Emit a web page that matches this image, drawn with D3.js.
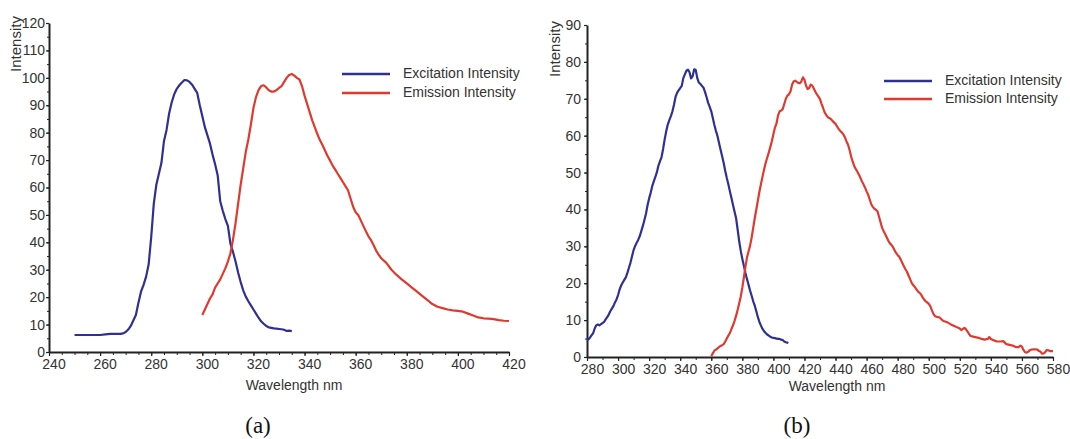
<!DOCTYPE html>
<html>
<head>
<meta charset="utf-8">
<script src="https://cdn.jsdelivr.net/npm/d3@7"></script>
<style>
  html, body { margin: 0; padding: 0; background: #fff; }
  svg { display: block; }
  text { font-family: "Liberation Sans", Arial, sans-serif; }
</style>
</head>
<body>
<svg id="chart" width="1070" height="439"></svg>
<script>
// ---------- DATA ----------
// Panel (a): [wavelength nm, intensity]
const aExcitation = [
  [250,6.2],[255,6.2],[260,6.2],[262,6.4],[264,6.6],[266,6.6],[268,6.6],[269,6.8],[270,7.3],[271,8.2],
  [272,9.5],[273,11.5],[274,13.5],[275,18],[276,22],[277,24.5],[278,27.5],[279,32],[280,42],[281,54],
  [282,61],[283,65],[284,69],[285,77],[286,81],[287,87],[288,91],[289,94],[290,96],[291,97.3],
  [292,98.3],[293,99.2],[294,99.1],[295,98.5],[296,97.5],[297,96],[298,94.5],[299,90],[300,86],
  [301,82],[302,79],[303,76],[304,72],[305,68.5],[306,64.5],[307,55],[308,51.5],[309,48.5],[310,46],
  [311,39.5],[312,36.5],[313,33],[314,29],[315,25.5],[316,22.5],[317,20.2],[318,18.5],[319,17],
  [320,15.5],[321,14],[322,12.5],[323,11.2],[324,10.3],[325,9.5],[326,9],[327,8.8],[328,8.6],
  [329,8.5],[330,8.4],[331,8.3],[332,8.1],[333,7.7],[334,7.8],[335,7.6]
];
const aEmission = [
  [300,13.5],[301,15.5],[302,17.5],[303,19.5],[304,21],[305,23.5],[306,25],[307,26.5],[308,28.5],
  [309,30.5],[310,33],[311,36],[312,41],[313,47],[314,54],[315,61],[316,67],[317,73],[318,77.5],
  [319,83],[320,89],[321,93],[322,95.5],[323,97],[324,97.3],[325,96.5],[326,95.5],[327,95],[328,95],
  [329,95.5],[330,96.3],[331,97],[332,98.5],[333,100],[334,101],[335,101.4],[336,100.8],[337,100],
  [338,99.4],[339,97],[340,93.5],[341,90.5],[342,87.5],[343,84.5],[344,82],[345,79.5],[346,77.3],
  [347,75.5],[348,73.5],[349,71.5],[350,69.8],[351,68],[352,66.5],[353,65],[354,63.5],[355,62],
  [356,60.5],[357,59],[358,56],[359,53],[360,51],[361,50],[362,48],[363,46],[364,44],[365,42.2],
  [366,40.8],[367,39],[368,37],[369,35.5],[370,34.2],[372,32.5],[374,30],[376,28.1],[378,26.5],
  [380,25],[382,23.5],[384,22],[386,20.5],[388,19],[390,17.5],[392,16.5],[394,16],[396,15.5],
  [398,15.2],[400,15],[402,14.7],[404,14],[406,13.3],[408,12.6],[410,12.3],[412,12.2],[414,12],
  [416,11.6],[418,11.4],[420,11.3]
];
// Panel (b)
const bExcitation = [
  [280,4.6],[281,4.8],[282,5.3],[283,5.9],[284,6.5],[285,7.8],[286,8.6],[287,8.8],[288,8.6],[289,8.9],
  [290,9.2],[291,9.5],[292,10.2],[293,10.8],[294,11.5],[295,12.4],[296,13.1],[297,13.8],[298,14.8],
  [299,15.6],[300,16.8],[301,18.3],[302,19.4],[303,20.2],[304,20.9],[305,21.6],[306,22.8],[307,24.2],
  [308,25.6],[309,27.3],[310,29.0],[311,30.1],[312,31.0],[313,31.8],[314,32.8],[315,34.2],[316,35.6],
  [317,37.2],[318,38.9],[319,41.2],[320,43.0],[321,44.5],[322,46.3],[323,47.6],[324,48.8],[325,50.1],
  [326,51.9],[327,53.1],[328,54.2],[329,56.4],[330,59.0],[331,61.2],[332,63.0],[333,64.2],[334,65.3],
  [335,66.6],[336,68.4],[337,70.5],[338,71.6],[339,72.3],[340,72.9],[341,73.5],[342,75.6],[343,76.6],
  [344,77.6],[345,77.9],[346,77.2],[347,75.5],[348,76.1],[349,78.0],[350,77.8],[351,75.6],[352,74.4],
  [353,74.0],[354,73.5],[355,73.0],[356,71.8],[357,70.4],[358,68.9],[359,67.8],[360,66.6],[361,64.8],
  [362,62.9],[363,61.3],[364,59.9],[365,58.0],[366,56.2],[367,54.4],[368,52.6],[369,50.4],[370,48.5],
  [371,46.8],[372,44.9],[373,43.1],[374,41.2],[375,39.4],[376,37.6],[377,34.5],[378,31.3],[379,28.7],
  [380,26.6],[381,24.7],[382,22.8],[383,21.1],[384,19.6],[385,18.0],[386,16.6],[387,15.1],[388,13.9],
  [389,12.4],[390,10.8],[391,9.5],[392,8.5],[393,7.6],[394,7.0],[395,6.5],[396,6.1],[397,5.8],
  [398,5.5],[399,5.3],[400,5.2],[401,5.1],[402,5.0],[403,4.9],[404,4.9],[405,4.7],[406,4.6],
  [407,4.2],[408,4.0],[409,3.9],[409.6,3.8]
];
const bEmission = [
  [360,0.2],[361,1.0],[362,1.7],[363,2.0],[364,2.3],[365,2.7],[366,3.0],[367,3.2],[368,3.5],[369,4.2],
  [370,5.0],[371,5.8],[372,6.5],[373,7.6],[374,8.6],[375,9.8],[376,11.2],[377,12.8],[378,14.6],
  [379,16.4],[380,18.8],[381,21.6],[382,24.5],[383,27.0],[384,28.6],[385,30.2],[386,32.4],[387,35.0],
  [388,37.6],[389,40.0],[390,42.4],[391,44.8],[392,46.9],[393,48.9],[394,50.8],[395,52.6],[396,54.0],
  [397,55.4],[398,56.9],[399,58.5],[400,60.4],[401,62.2],[402,63.3],[403,65.5],[404,66.6],[405,66.8],
  [406,67.2],[407,68.6],[408,70.0],[409,70.8],[410,71.2],[411,72.0],[412,73.8],[413,74.7],[414,74.9],
  [415,74.6],[416,74.3],[417,74.2],[418,74.7],[419,75.8],[420,75.2],[421,73.6],[422,72.6],[423,72.9],
  [424,73.8],[425,73.6],[426,72.8],[427,71.9],[428,71.2],[429,70.6],[430,69.9],[431,68.6],[432,67.5],
  [433,66.3],[434,65.6],[435,65.0],[436,64.8],[437,64.5],[438,64.0],[439,63.6],[440,63.2],[441,62.5],
  [442,61.8],[443,61.3],[444,60.9],[445,60.4],[446,59.6],[447,58.5],[448,57.6],[449,56.2],[450,54.4],
  [451,53.0],[452,51.8],[453,51.0],[454,50.3],[455,49.5],[456,48.6],[457,47.6],[458,46.8],[459,45.9],
  [460,44.9],[461,44.0],[462,42.7],[463,41.4],[464,40.7],[465,40.2],[466,39.9],[467,39.5],[468,38.0],
  [469,36.5],[470,35.0],[471,34.1],[472,33.3],[473,32.4],[474,31.5],[475,30.8],[476,30.4],[477,29.8],
  [478,28.9],[479,28.2],[480,27.6],[481,27.2],[482,26.4],[483,25.5],[484,24.6],[485,23.8],[486,23.1],
  [487,22.1],[488,21.1],[489,20.1],[490,19.5],[491,19.0],[492,18.4],[493,17.8],[494,17.4],[495,17.0],
  [496,16.2],[497,15.6],[498,15.1],[499,14.8],[500,14.4],[501,13.8],[502,12.7],[503,11.7],[504,11.1],
  [505,10.9],[506,10.8],[507,10.7],[508,10.3],[509,9.9],[510,9.7],[512,9.4],[514,8.9],[516,8.5],
  [518,8.1],[520,7.7],[521,7.3],[522,7.6],[523,7.9],[524,7.5],[525,6.9],[526,6.2],[527,5.7],[528,5.6],
  [530,5.4],[532,5.2],[534,4.9],[536,4.7],[538,4.9],[539,5.4],[540,4.9],[542,4.5],[544,4.2],[546,4.2],
  [548,4.3],[549,3.9],[550,3.5],[552,3.3],[554,3.1],[556,2.7],[558,2.7],[559,3.1],[560,2.8],[561,1.9],
  [562,1.3],[563,1.2],[564,1.4],[565,1.8],[566,2.0],[568,2.1],[570,2.0],[571,1.6],[572,1.4],[573,0.9],
  [574,1.0],[575,1.3],[576,1.9],[577,1.8],[578,1.6],[579,1.6],[580,1.6]
];

// Tick labels
const aXTicks = [240, 260, 280, 300, 320, 340, 360, 380, 400, 420];
const aYTicks = [0, 10, 20, 30, 40, 50, 60, 70, 80, 90, 100, 110, 120];
const bXTicks = [280, 300, 320, 340, 360, 380, 400, 420, 440, 460, 480, 500, 520, 540, 560, 580];
const bYTicks = [0, 10, 20, 30, 40, 50, 60, 70, 80, 90];
const seriesNames = ["Excitation Intensity", "Emission Intensity"];
const xTitle = "Wavelength nm";
const yTitle = "Intensity";
const captions = ["(a)", "(b)"];

// ---------- DRAW ----------
const svg = d3.select("#chart");
const BLUE = "#2e3192", RED = "#e0392e", AX = "#222", TXT = "#333";

function panel(cfg) {
  const x = d3.scaleLinear().domain(cfg.xDomain).range(cfg.xRange);
  const y = d3.scaleLinear().domain(cfg.yDomain).range(cfg.yRange);
  const g = svg.append("g");

  // minor ticks
  const xMinor = d3.range(cfg.xDomain[0], cfg.xDomain[1] + 0.001, cfg.xMinorStep);
  const yMinor = d3.range(cfg.yDomain[0], cfg.yDomain[1] + 0.001, 5);
  g.append("g").attr("transform", `translate(0,${cfg.yRange[0]})`)
    .call(d3.axisBottom(x).tickValues(xMinor).tickSize(3).tickFormat(""))
    .call(s => s.select(".domain").remove())
    .selectAll("line").attr("stroke", AX).attr("stroke-width", 1);
  g.append("g").attr("transform", `translate(${cfg.xRange[0]},0)`)
    .call(d3.axisLeft(y).tickValues(yMinor).tickSize(2).tickFormat(""))
    .call(s => s.select(".domain").remove())
    .selectAll("line").attr("stroke", AX).attr("stroke-width", 1);

  // major axes
  const xa = g.append("g").attr("transform", `translate(0,${cfg.yRange[0]})`)
    .call(d3.axisBottom(x).tickValues(cfg.xTicks).tickSize(4).tickSizeOuter(0).tickPadding(cfg.xPad));
  const ya = g.append("g").attr("transform", `translate(${cfg.xRange[0]},0)`)
    .call(d3.axisLeft(y).tickValues(cfg.yTicks).tickSize(3).tickSizeOuter(0).tickPadding(cfg.yPad));
  [xa, ya].forEach(a => {
    a.select(".domain").attr("stroke", AX).attr("stroke-width", 2);
    a.selectAll(".tick line").attr("stroke", AX).attr("stroke-width", 1.2);
    a.selectAll(".tick text").attr("fill", TXT).style("font-size", "14px")
      .style("font-family", '"Liberation Sans", Arial, sans-serif');
  });
  xa.selectAll(".tick text").attr("dx", cfg.xDx);

  // titles
  g.append("text").attr("x", cfg.xTitlePos[0]).attr("y", cfg.xTitlePos[1])
    .attr("text-anchor", "middle").attr("fill", TXT).style("font-size", "14px").text(xTitle);
  g.append("text").attr("transform", `translate(${cfg.yTitlePos[0]},${cfg.yTitlePos[1]}) rotate(-90)`)
    .attr("text-anchor", "middle").attr("fill", TXT).style("font-size", "15px").text(yTitle);

  // lines
  const line = d3.line().x(d => x(d[0])).y(d => y(d[1]));
  [[cfg.ex, BLUE], [cfg.em, RED]].forEach(([data, col]) => {
    g.append("path").datum(data).attr("d", line).attr("fill", "none")
      .attr("stroke", col).attr("stroke-width", 2.2).attr("stroke-linejoin", "round");
  });

  // legend
  const lg = g.append("g").attr("transform", `translate(${cfg.legendPos[0]},${cfg.legendPos[1]})`);
  seriesNames.forEach((name, i) => {
    const yy = i * cfg.legendGap;
    lg.append("line").attr("x1", 0).attr("x2", 48).attr("y1", yy).attr("y2", yy)
      .attr("stroke", i === 0 ? BLUE : RED).attr("stroke-width", 2.5);
    lg.append("text").attr("x", 61).attr("y", yy + 4).attr("fill", TXT)
      .style("font-size", "14px").text(name);
  });

  // caption
  svg.append("text").attr("x", cfg.captionPos[0]).attr("y", cfg.captionPos[1])
    .attr("text-anchor", "middle").attr("fill", "#111")
    .style("font-family", '"Liberation Serif", "DejaVu Serif", serif')
    .style("font-size", "23px").text(cfg.caption);
}

panel({
  xDomain: [240, 420], xRange: [49, 509], yDomain: [0, 120], yRange: [352, 23],
  xTicks: aXTicks, yTicks: aYTicks, xMinorStep: 5, xPad: 3, yPad: 1, xDx: 4.5,
  ex: aExcitation, em: aEmission,
  xTitlePos: [294, 390], yTitlePos: [21, 44],
  legendPos: [342, 74], legendGap: 19,
  caption: captions[0], captionPos: [258, 433]
});
panel({
  xDomain: [280, 580], xRange: [587, 1053], yDomain: [0, 90], yRange: [357, 25],
  xTicks: bXTicks, yTicks: bYTicks, xMinorStep: 10, xPad: 3, yPad: 3, xDx: 5,
  ex: bExcitation, em: bEmission,
  xTitlePos: [837, 391], yTitlePos: [560, 49],
  legendPos: [884, 81], legendGap: 18,
  caption: captions[1], captionPos: [797, 433]
});
</script>
</body>
</html>
